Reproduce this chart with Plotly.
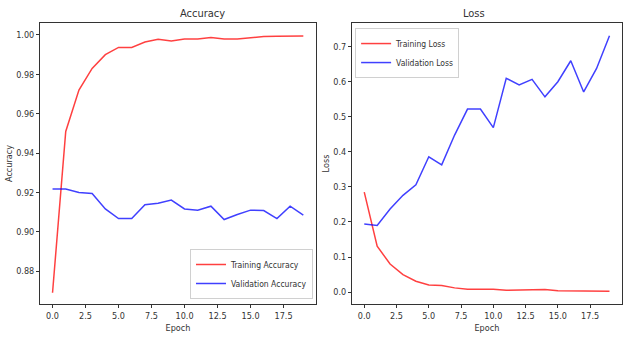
import plotly.graph_objects as go
from plotly.subplots import make_subplots

epochs = list(range(20))
train_acc = [0.869, 0.951, 0.972, 0.983, 0.990, 0.9937, 0.9937, 0.9964, 0.9978, 0.997,
             0.998, 0.998, 0.9987, 0.998, 0.998, 0.9987, 0.9992, 0.9993, 0.9993, 0.9995]
val_acc = [0.9217, 0.9217, 0.920, 0.9195, 0.9116, 0.9067, 0.9067, 0.9137, 0.9145, 0.9161,
           0.9116, 0.9110, 0.9130, 0.9062, 0.9088, 0.9110, 0.9108, 0.9067, 0.9130, 0.9085]
train_loss = [0.285, 0.131, 0.080, 0.050, 0.031, 0.020, 0.019, 0.012, 0.008, 0.009,
              0.008, 0.005, 0.005, 0.006, 0.007, 0.004, 0.004, 0.003, 0.004, 0.002]
val_loss = [0.194, 0.190, 0.237, 0.276, 0.306, 0.386, 0.363, 0.448, 0.522, 0.522,
            0.469, 0.610, 0.591, 0.607, 0.557, 0.600, 0.660, 0.571, 0.638, 0.731]

RED = "rgba(255,0,0,0.75)"
BLUE = "rgba(0,0,255,0.75)"
FONT = "DejaVu Sans Condensed, DejaVu Sans"
TXT = "#333333"

fig = make_subplots(rows=1, cols=2)
fig.add_trace(go.Scatter(x=epochs, y=train_acc, mode="lines", name="Training Accuracy",
                         line=dict(color=RED, width=1.5), legend="legend"), row=1, col=1)
fig.add_trace(go.Scatter(x=epochs, y=val_acc, mode="lines", name="Validation Accuracy",
                         line=dict(color=BLUE, width=1.5), legend="legend"), row=1, col=1)
fig.add_trace(go.Scatter(x=epochs, y=train_loss, mode="lines", name="Training Loss",
                         line=dict(color=RED, width=1.5), legend="legend2"), row=1, col=2)
fig.add_trace(go.Scatter(x=epochs, y=val_loss, mode="lines", name="Validation Loss",
                         line=dict(color=BLUE, width=1.5), legend="legend2"), row=1, col=2)

ax_common = dict(showgrid=False, zeroline=False, showline=True, linecolor=TXT,
                 linewidth=1, mirror=True, ticks="outside", ticklen=3, tickcolor=TXT,
                 automargin=False,
                 tickfont=dict(family=FONT, size=9, color=TXT))

xticks = [0, 2.5, 5, 7.5, 10, 12.5, 15, 17.5]
xtext = ["0.0", "2.5", "5.0", "7.5", "10.0", "12.5", "15.0", "17.5"]

fig.update_xaxes(**ax_common, range=[-0.95, 19.95], tickvals=xticks, ticktext=xtext,
                 title=dict(text="Epoch", font=dict(family=FONT, size=9, color=TXT), standoff=4))
fig.update_xaxes(domain=[0.0642, 0.507], row=1, col=1)
fig.update_xaxes(domain=[0.565, 0.998], row=1, col=2)

fig.update_yaxes(**ax_common)
fig.update_yaxes(domain=[0.1006, 0.932])
fig.update_yaxes(row=1, col=1, range=[0.8633, 1.0061],
                 tickvals=[0.88, 0.90, 0.92, 0.94, 0.96, 0.98, 1.00],
                 ticktext=["0.88", "0.90", "0.92", "0.94", "0.96", "0.98", "1.00"],
                 title=dict(text="Accuracy", font=dict(family=FONT, size=9, color=TXT), standoff=2))
fig.update_yaxes(row=1, col=2, range=[-0.034, 0.7677],
                 tickvals=[0.0, 0.1, 0.2, 0.3, 0.4, 0.5, 0.6, 0.7],
                 ticktext=["0.0", "0.1", "0.2", "0.3", "0.4", "0.5", "0.6", "0.7"],
                 title=dict(text="Loss", font=dict(family=FONT, size=9, color=TXT), standoff=2))

title_y = (338 - 14) / 338
fig.add_annotation(text="Accuracy", x=0.2856, y=title_y, xref="paper", yref="paper",
                   showarrow=False, yanchor="middle",
                   font=dict(family=FONT, size=11, color=TXT))
fig.add_annotation(text="Loss", x=0.7815, y=title_y, xref="paper", yref="paper",
                   showarrow=False, yanchor="middle",
                   font=dict(family=FONT, size=11, color=TXT))

legend_style = dict(bgcolor="rgba(255,255,255,0.8)", bordercolor="#d0d0d0", borderwidth=1,
                    font=dict(family=FONT, size=8.5, color=TXT), tracegroupgap=0,
                    itemwidth=30)
fig.update_layout(
    width=623, height=338,
    margin=dict(l=0, r=0, t=0, b=0, autoexpand=False),
    paper_bgcolor="white", plot_bgcolor="white",
    showlegend=True,
    legend=dict(**legend_style, x=0.5024, y=0.1154, xanchor="right", yanchor="bottom"),
    legend2=dict(**legend_style, x=0.570, y=0.917, xanchor="left", yanchor="top"),
)

fig.write_html("out.html", config={"displayModeBar": False},
               post_script="document.body.style.margin='0';document.body.style.overflow='hidden';")
